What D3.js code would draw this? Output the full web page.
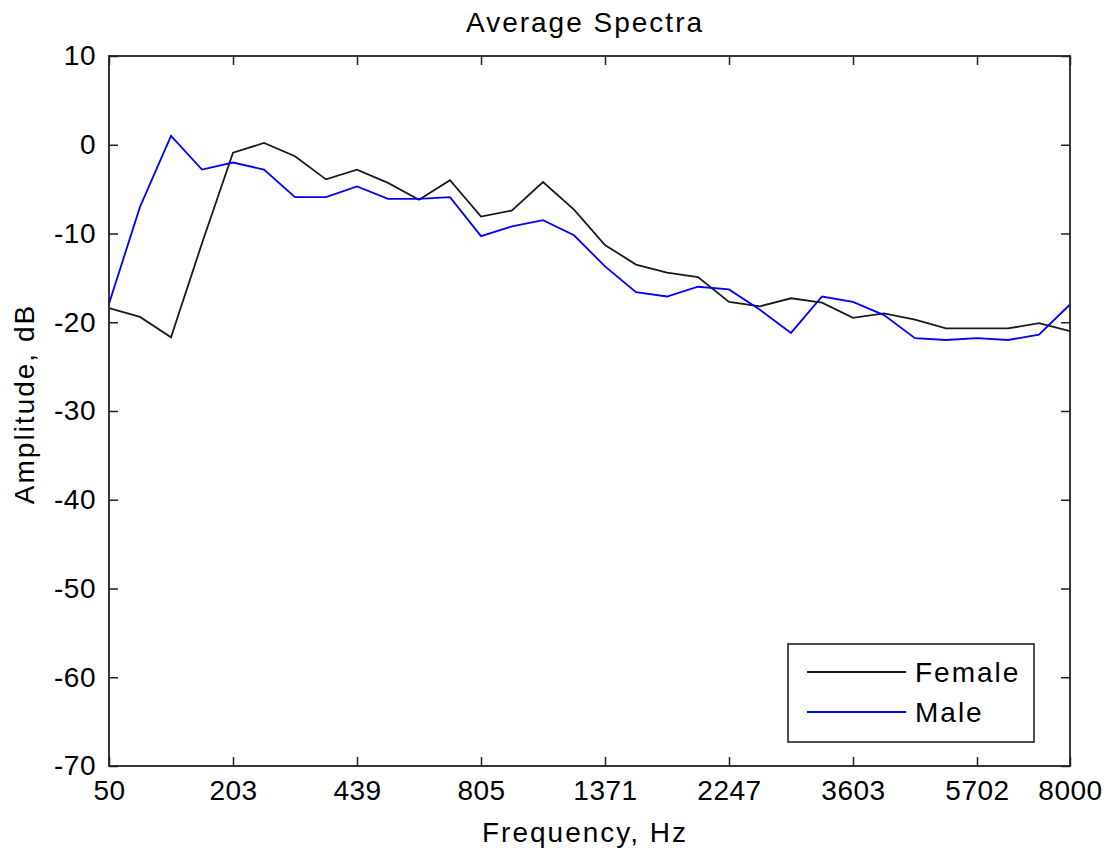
<!DOCTYPE html>
<html>
<head>
<meta charset="utf-8">
<script src="https://cdn.jsdelivr.net/npm/d3@7"></script>
<style>
  html, body { margin: 0; padding: 0; background: #fff; }
  svg text { font-family: "Liberation Sans", Arial, sans-serif; fill: #000; }
</style>
</head>
<body>
<svg id="chart" width="1109" height="854"></svg>
<script>
// Band index (1..32) and the frequency labels shown at selected bands
const bandIndex = d3.range(1, 33);
const tickBands = [1, 5, 9, 13, 17, 21, 25, 29, 32];
const tickFreqLabels = ["50", "203", "439", "805", "1371", "2247", "3603", "5702", "8000"];
const yTicks = [10, 0, -10, -20, -30, -40, -50, -60, -70];

// Average amplitude per band, dB
const female = [-18.4, -19.4, -21.7, -11.1, -0.9, 0.2, -1.3, -3.9, -2.8, -4.3,
                -6.2, -4.0, -8.1, -7.4, -4.2, -7.3, -11.3, -13.5, -14.4, -14.9,
                -17.7, -18.2, -17.3, -17.8, -19.5, -19.0, -19.7, -20.7, -20.7, -20.7,
                -20.1, -21.0];
const male = [-17.9, -7.0, 1.0, -2.8, -2.0, -2.8, -5.9, -5.9, -4.7, -6.1,
              -6.1, -5.9, -10.3, -9.2, -8.5, -10.2, -13.7, -16.6, -17.1, -16.0,
              -16.3, -18.6, -21.2, -17.1, -17.7, -19.2, -21.8, -22.0, -21.8, -22.0,
              -21.4, -18.0];

const seriesNames = ["Female", "Male"];
const seriesColors = ["#1a1a1a", "#0000ff"];
const seriesData = [female, male];

const svg = d3.select("#chart");
const plotLeft = 109, plotRight = 1070, plotTop = 56, plotBottom = 766;
const font = 28;

const x = d3.scaleLinear().domain([1, 32]).range([plotLeft, plotRight]);
const y = d3.scaleLinear().domain([-70, 10]).range([plotBottom, plotTop]);

const axisColor = "#222";
const tickLen = 9;

// Data lines
const line = d3.line().x((d, i) => x(bandIndex[i])).y(d => y(d));
seriesData.forEach((vals, k) => {
  svg.append("path")
    .datum(vals)
    .attr("fill", "none")
    .attr("stroke", seriesColors[k])
    .attr("stroke-width", 1.8)
    .attr("stroke-linejoin", "miter")
    .attr("d", line);
});

// Axes: ticks point inward on all four sides
const xAxisBottom = d3.axisBottom(x).tickValues(tickBands)
  .tickFormat((d, i) => tickFreqLabels[i]).tickSizeInner(-tickLen).tickSizeOuter(0).tickPadding(14);
const xAxisTop = d3.axisTop(x).tickValues(tickBands).tickFormat("").tickSizeInner(-tickLen).tickSizeOuter(0);
const yAxisLeft = d3.axisLeft(y).tickValues(yTicks).tickFormat(d => String(d))
  .tickSizeInner(-tickLen).tickSizeOuter(0).tickPadding(13);
const yAxisRight = d3.axisRight(y).tickValues(yTicks).tickFormat("").tickSizeInner(-tickLen).tickSizeOuter(0);

function styleAxis(g) {
  g.select(".domain").remove();
  g.selectAll(".tick line").attr("stroke", axisColor).attr("stroke-width", 1.5);
  g.selectAll(".tick text").attr("font-size", font).attr("fill", "#000")
    .attr("font-family", '"Liberation Sans", Arial, sans-serif');
}

svg.append("g").attr("transform", `translate(0,${plotBottom})`).call(xAxisBottom).call(styleAxis)
  .selectAll(".tick text").attr("dy", "0.71em").attr("letter-spacing", "0.5px");
svg.append("g").attr("transform", `translate(0,${plotTop})`).call(xAxisTop).call(styleAxis);
svg.append("g").attr("transform", `translate(${plotLeft},0)`).call(yAxisLeft).call(styleAxis)
  .selectAll(".tick text").attr("letter-spacing", "0.5px");
svg.append("g").attr("transform", `translate(${plotRight},0)`).call(yAxisRight).call(styleAxis);

// Axes box
svg.append("rect")
  .attr("x", plotLeft).attr("y", plotTop)
  .attr("width", plotRight - plotLeft).attr("height", plotBottom - plotTop)
  .attr("fill", "none").attr("stroke", axisColor).attr("stroke-width", 1.8);

// Title and axis labels
svg.append("text").attr("x", 585).attr("y", 32).attr("text-anchor", "middle")
  .attr("font-size", font).attr("letter-spacing", "2px").text("Average Spectra");
svg.append("text").attr("x", 585).attr("y", 842).attr("text-anchor", "middle")
  .attr("font-size", font).attr("letter-spacing", "2px").text("Frequency, Hz");
svg.append("text").attr("transform", "translate(34,404) rotate(-90)").attr("text-anchor", "middle")
  .attr("font-size", font).attr("letter-spacing", "2px").text("Amplitude, dB");

// Legend
const legend = svg.append("g");
legend.append("rect").attr("x", 788).attr("y", 644).attr("width", 246).attr("height", 98)
  .attr("fill", "#fff").attr("stroke", axisColor).attr("stroke-width", 1.6);
seriesNames.forEach((name, k) => {
  const ly = 672 + k * 40;
  legend.append("line").attr("x1", 807).attr("x2", 906).attr("y1", ly).attr("y2", ly)
    .attr("stroke", seriesColors[k]).attr("stroke-width", 1.8);
  legend.append("text").attr("x", 915).attr("y", ly).attr("dy", "0.35em")
    .attr("font-size", font).attr("letter-spacing", "2px").text(name);
});
</script>
</body>
</html>
